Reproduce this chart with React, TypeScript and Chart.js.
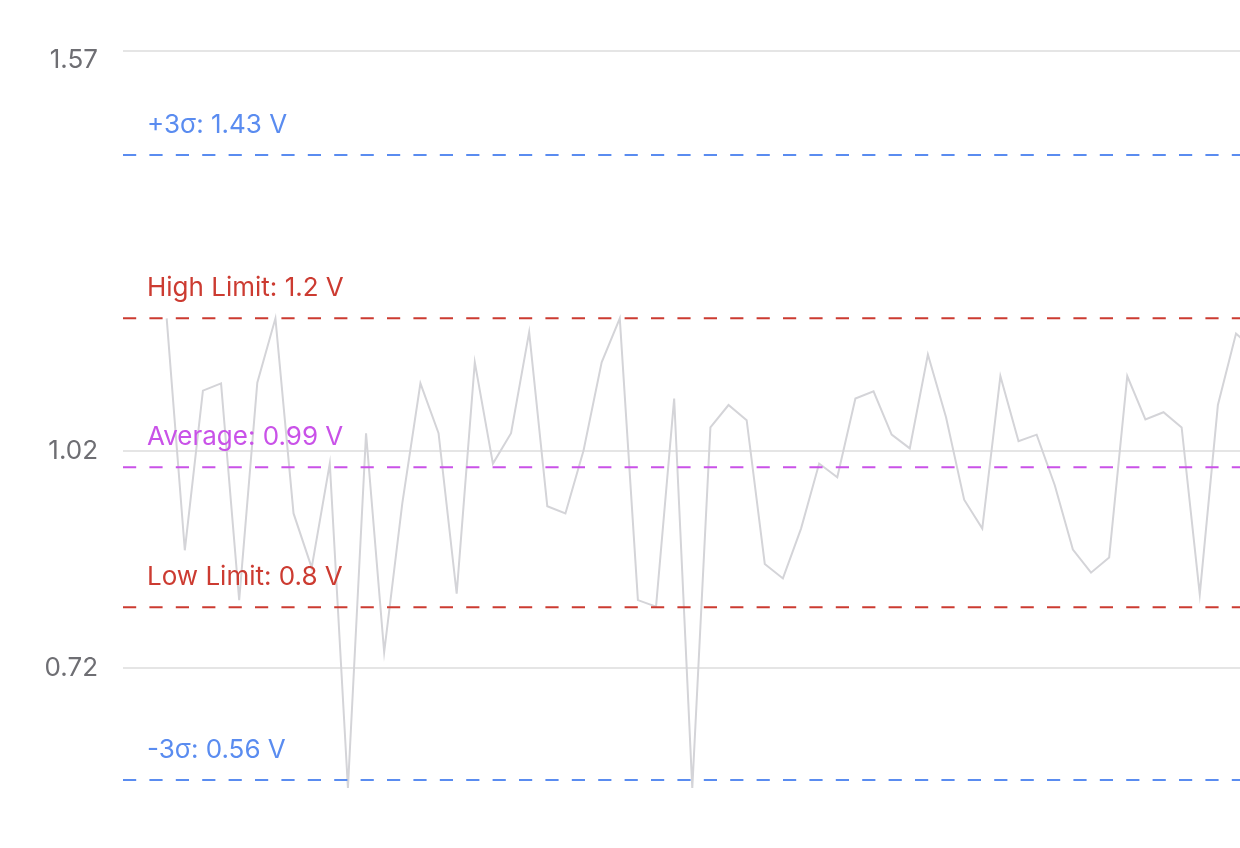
import React, { useEffect, useRef } from 'react';
import { Chart, registerables } from 'chart.js';

Chart.register(...registerables);

// Measured voltage per sample (V)
const voltages: number[] = [
  1.2, 0.879, 1.1, 1.11, 0.81, 1.111, 1.2, 0.93, 0.855, 0.999,
  0.55, 1.041, 0.738, 0.944, 1.11, 1.041, 0.819, 1.139, 0.999, 1.041,
  1.181, 0.94, 0.93, 1.017, 1.139, 1.2, 0.81, 0.801, 1.089, 0.55,
  1.049, 1.08, 1.059, 0.86, 0.84, 0.909, 0.999, 0.98, 1.089, 1.099,
  1.039, 1.02, 1.15, 1.063, 0.949, 0.909, 1.12, 1.03, 1.039, 0.969,
  0.88, 0.848, 0.869, 1.12, 1.06, 1.07, 1.049, 0.818, 1.08, 1.179,
  1.156,
];
const sampleIndex: number[] = voltages.map((_, i) => i);

// Axis ranges and ticks
const X_MIN = -2.41;
const X_MAX = 59.22;
const Y_MIN = 0.505;
const Y_MAX = 1.57;
const yTickValues: number[] = [0.7164, 1.0167, 1.57];

// Reference lines
const refNames: string[] = ['+3σ', 'High Limit', 'Average', 'Low Limit', '-3σ'];
const refValues: number[] = [1.426, 1.2, 0.9938, 0.8, 0.561];
const refLabels: string[] = ['1.43', '1.2', '0.99', '0.8', '0.56'];
const refColors: string[] = ['#5a8cf0', '#cc3b31', '#c952e8', '#cc3b31', '#5a8cf0'];

const refLabelPlugin = {
  id: 'refLabels',
  afterDatasetsDraw(chart: any) {
    const { ctx, chartArea, scales } = chart;
    const y = scales.y;
    ctx.save();
    ctx.font = '26px Inter';
    ctx.textAlign = 'left';
    ctx.textBaseline = 'alphabetic';
    refValues.forEach((v, i) => {
      const py = y.getPixelForValue(v);
      ctx.fillStyle = refColors[i];
      ctx.fillText(`${refNames[i]}: ${refLabels[i]} V`, chartArea.left + 24, py - 22);
    });
    ctx.restore();
  },
};

export default function App() {
  const canvasRef = useRef<HTMLCanvasElement | null>(null);

  useEffect(() => {
    if (!canvasRef.current) return;
    const refDatasets = refValues.map((v, i) => ({
      label: refNames[i],
      data: [
        { x: X_MIN, y: v },
        { x: X_MAX, y: v },
      ],
      borderColor: refColors[i],
      borderWidth: 2,
      borderDash: [13.2, 13.2],
      pointRadius: 0,
      fill: false,
      order: 0,
    }));
    const chart = new Chart(canvasRef.current, {
      type: 'line',
      data: {
        datasets: [
          {
            label: 'Voltage',
            data: sampleIndex.map((x, i) => ({ x, y: voltages[i] })),
            borderColor: '#d4d4d8',
            borderWidth: 2,
            pointRadius: 0,
            tension: 0,
            fill: false,
            order: 1,
          },
          ...refDatasets,
        ],
      },
      options: {
        animation: false,
        responsive: true,
        maintainAspectRatio: false,
        layout: { padding: { top: 51, bottom: 27.5, left: 0, right: 0 } },
        plugins: {
          legend: { display: false },
          tooltip: { enabled: false },
        },
        scales: {
          x: {
            type: 'linear',
            display: false,
            min: X_MIN,
            max: X_MAX,
          },
          y: {
            type: 'linear',
            min: Y_MIN,
            max: Y_MAX,
            afterBuildTicks: (s: any) => {
              s.ticks = yTickValues.map((v) => ({ value: v }));
            },
            afterFit: (s: any) => {
              s.width = 123;
              s.paddingTop = 0;
              s.paddingBottom = 0;
            },
            grid: { color: '#e5e5e5', lineWidth: 2, drawTicks: false },
            border: { display: false },
            ticks: {
              padding: 25,
              color: '#6e6e73',
              font: { family: 'Inter', size: 26, lineHeight: '19px' },
              callback: (v: any) => {
                const s = Number(v).toFixed(2);
                return v === Y_MAX ? ['', s] : s;
              },
            },
          },
        },
      },
      plugins: [refLabelPlugin],
    });
    return () => chart.destroy();
  }, []);

  return (
    <div style={{ position: 'fixed', left: 0, top: 0, width: 1240, height: 848, background: '#ffffff' }}>
      <canvas ref={canvasRef} />
    </div>
  );
}
